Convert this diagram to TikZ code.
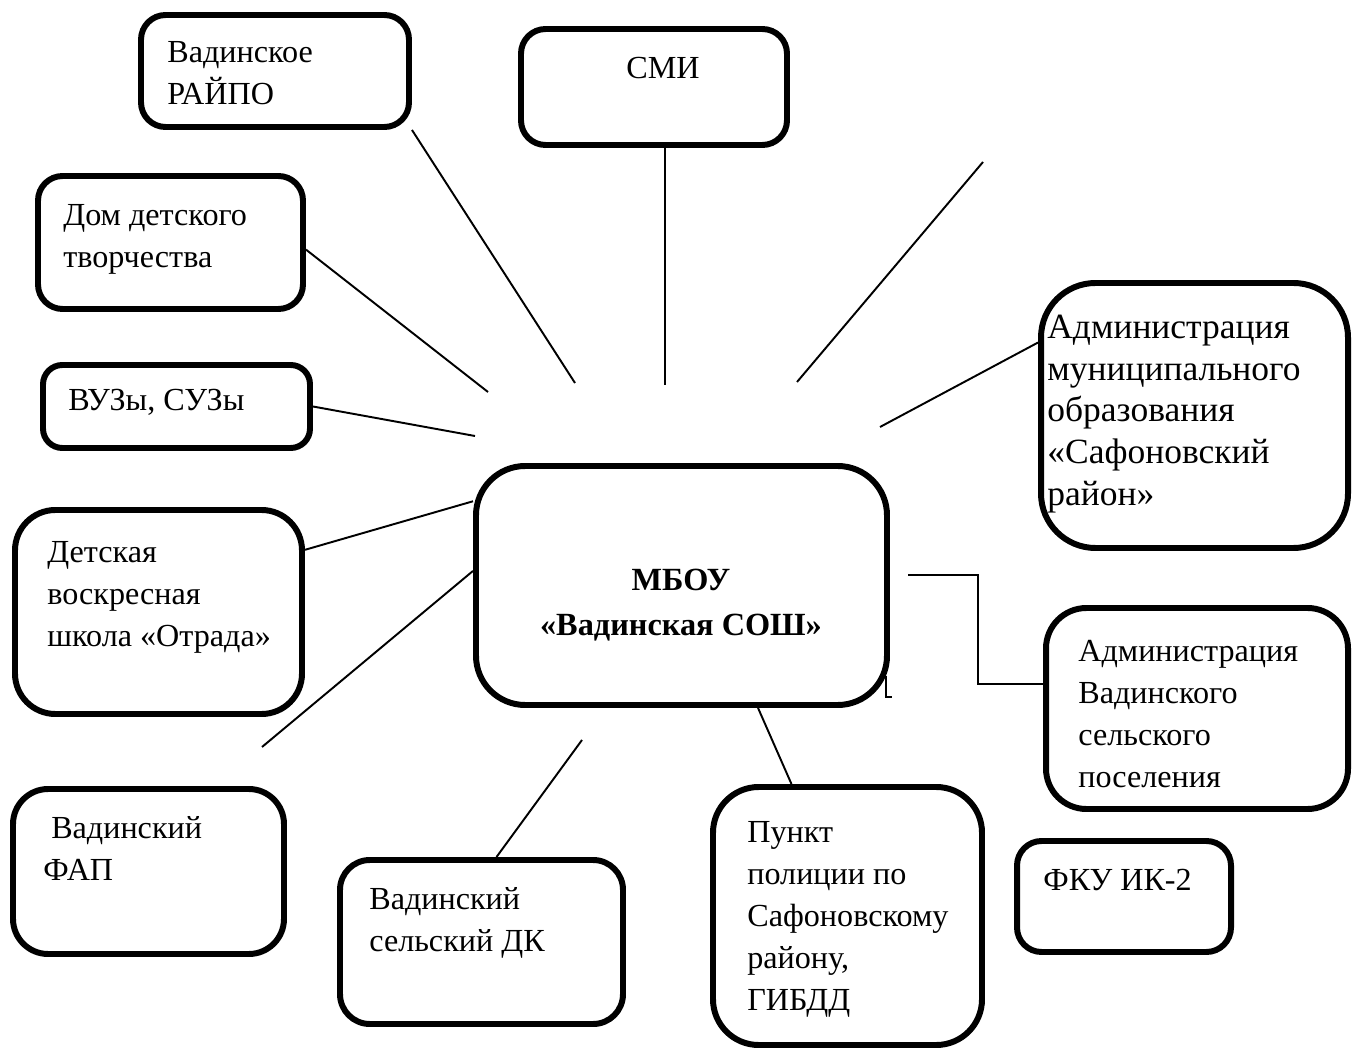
\documentclass[tikz,border=0pt]{standalone}
\usepackage{fontspec}
\setmainfont{Liberation Serif}
\usetikzlibrary{fit,backgrounds}
\begin{document}
\begin{tikzpicture}[x=0.02cm,y=-0.02cm,
  pbox/.style={draw, line width=3.4pt, fill=white, inner sep=0pt, rounded corners=#1},
  pbox/.default=14pt,
  txt/.style={anchor=north west, inner sep=0pt, align=left, font=\fontsize{18.3pt}{23.9pt}\selectfont},
  ctxt/.style={txt, anchor=north, align=center},
  link/.style={line width=1.1pt}]
\useasboundingbox (0,0) rectangle (1352,1050);

% boxes
\node[pbox=14pt, fit={(141,15) (409,127)}] (raipo) {};
\node[pbox=14pt, fit={(521,29) (787,145)}] (smi) {};
\node[pbox=14pt, fit={(38,176) (303,309)}] (dom) {};
\node[pbox=11pt, fit={(43,365) (310,448)}] (vuz) {};
\node[pbox=23pt, fit={(15,510) (302,714)}] (det) {};
\node[pbox=28pt, fit={(476,466) (887,705)}] (mbou) {};
\node[pbox=31pt, fit={(1041,283) (1348,548)}] (amo) {};
\node[pbox=23pt, fit={(1046,608) (1348,809)}] (avad) {};
\node[pbox=20pt, fit={(13,789) (284,954)}] (fap) {};
\node[pbox=17pt, fit={(340,860) (623,1024)}] (dk) {};
\node[pbox=26pt, fit={(713,787) (982,1045)}] (pp) {};
\node[pbox=14pt, fit={(1017,841) (1231,952)}] (fku) {};

% texts
\node[txt] (raipo-t) at (167,33) {\strut Вадинское\\РАЙПО};
\node[ctxt] (smi-t) at (663,49) {\strut СМИ};
\node[txt] (dom-t) at (63,196) {\strut Дом детского\\творчества};
\node[txt] (vuz-t) at (68,381) {\strut ВУЗы, СУЗы};
\node[txt] (det-t) at (47,533) {\strut Детская\\воскресная\\школа «Отрада»};
\node[ctxt, font=\fontsize{18.4pt}{25.6pt}\selectfont\bfseries] (mbou-t) at (681,559) {\strut МБОУ\\«Вадинская СОШ»};
\node[txt, font=\fontsize{20.2pt}{23.7pt}\selectfont] (amo-t) at (1047,309) {\strut Администрация\\муниципального\\образования\\«Сафоновский\\район»};
\node[txt] (avad-t) at (1078,632) {\strut Администрация\\Вадинского\\сельского\\поселения};
\node[txt] (fap-t) at (43,809) {\strut\hspace*{4.5pt}Вадинский\\ФАП};
\node[txt] (dk-t) at (369,880) {\strut Вадинский\\сельский ДК};
\node[txt] (pp-t) at (747,813) {\strut Пункт\\полиции по\\Сафоновскому\\району,\\ГИБДД};
\node[txt] (fku-t) at (1043,861) {\strut ФКУ ИК-2};

% free ends
\coordinate (e-raipo) at (575,383);
\coordinate (e-smi) at (665,385);
\coordinate (f1) at (983,162);
\coordinate (f2) at (797,382);
\coordinate (e-dom) at (488,392);
\coordinate (e-vuz) at (475,436);
\coordinate (e-fap) at (262,747);
\coordinate (e-amo) at (880,427);
\coordinate (e-elb) at (908,575);
\coordinate (e-elb2) at (978,575);
\coordinate (e-dk) at (582,740);
\coordinate (m1) at (886,676);
\coordinate (m2) at (886,697);
\coordinate (m3) at (892,697);

\begin{scope}[on background layer]
\draw[link] (raipo.south east) -- (e-raipo);
\draw[link] (e-smi |- smi.south) -- (e-smi);
\draw[link] (f1) -- (f2);
\draw[link] (dom.-3) -- (e-dom);
\draw[link] (vuz.east) -- (e-vuz);
\draw[link] (det.23.6) -- (mbou.158.2);
\draw[link] (mbou.176.3) -- (e-fap);
\draw[link] (amo.155.1) -- (e-amo);
\draw[link] (e-elb) -- (e-elb2) |- (avad.171.7);
\draw[link] (e-dk) -- (dk.80.3);
\draw[link] (mbou.-58.7) -- (pp.113.5);
\end{scope}
\draw[link] (m1) -- (m2) -- (m3);
\end{tikzpicture}
\end{document}
